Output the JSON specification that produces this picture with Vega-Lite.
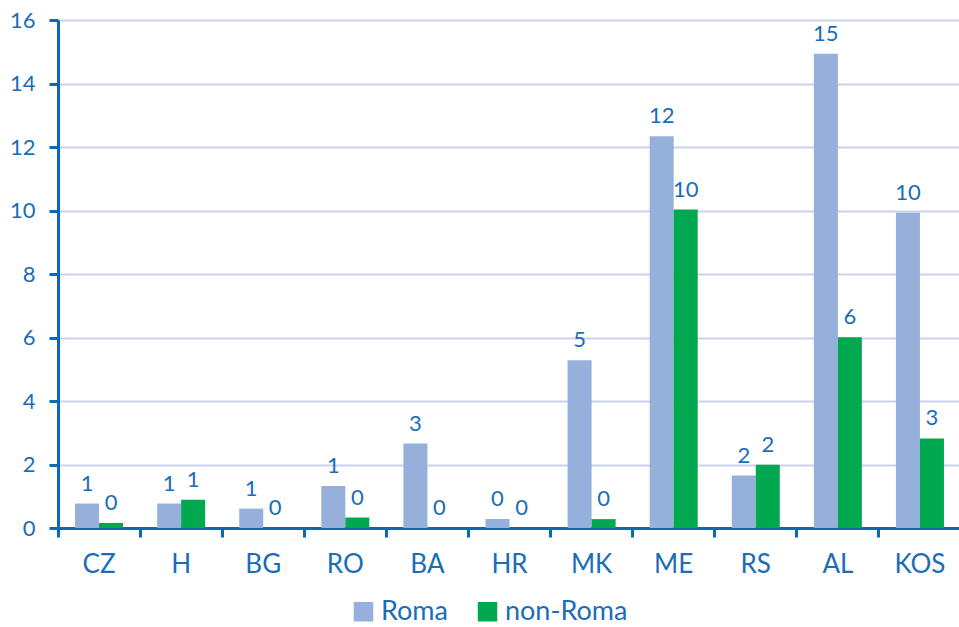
{
  "$schema": "https://vega.github.io/schema/vega-lite/v6.json",
  "autosize": "none",
  "width": 903,
  "height": 508,
  "padding": {"left": 58, "top": 20, "right": 0, "bottom": 99},
  "background": "white",
  "config": {
    "view": {"stroke": null},
    "font": "Lato",
    "axis": {"labelFont": "Lato", "labelColor": "#1a6db6", "domainColor": "#0a6ab4", "tickColor": "#0a6ab4"}
  },
  "data": {
    "values": [
      {"country": "CZ", "group": "Roma", "value": 0.77},
      {"country": "CZ", "group": "non-Roma", "value": 0.16},
      {"country": "H", "group": "Roma", "value": 0.77},
      {"country": "H", "group": "non-Roma", "value": 0.89},
      {"country": "BG", "group": "Roma", "value": 0.61},
      {"country": "BG", "group": "non-Roma", "value": 0.0},
      {"country": "RO", "group": "Roma", "value": 1.32},
      {"country": "RO", "group": "non-Roma", "value": 0.33},
      {"country": "BA", "group": "Roma", "value": 2.66},
      {"country": "BA", "group": "non-Roma", "value": 0.0},
      {"country": "HR", "group": "Roma", "value": 0.28},
      {"country": "HR", "group": "non-Roma", "value": 0.0},
      {"country": "MK", "group": "Roma", "value": 5.28},
      {"country": "MK", "group": "non-Roma", "value": 0.28},
      {"country": "ME", "group": "Roma", "value": 12.34},
      {"country": "ME", "group": "non-Roma", "value": 10.03},
      {"country": "RS", "group": "Roma", "value": 1.65},
      {"country": "RS", "group": "non-Roma", "value": 1.99},
      {"country": "AL", "group": "Roma", "value": 14.94},
      {"country": "AL", "group": "non-Roma", "value": 6.01},
      {"country": "KOS", "group": "Roma", "value": 9.93},
      {"country": "KOS", "group": "non-Roma", "value": 2.82}
    ]
  },
  "encoding": {
    "x": {
      "field": "country",
      "type": "nominal",
      "sort": null,
      "scale": {"paddingInner": 0, "paddingOuter": 0},
      "axis": {
        "title": null,
        "labelAngle": 0,
        "labelFontSize": 26,
        "labelPadding": 14,
        "tickSize": 9,
        "tickWidth": 3,
        "domainWidth": 3,
        "bandPosition": 0,
        "grid": false
      }
    },
    "xOffset": {
      "field": "group",
      "type": "nominal",
      "sort": ["Roma", "non-Roma"],
      "scale": {"paddingInner": 0, "paddingOuter": 0.71}
    },
    "y": {
      "field": "value",
      "type": "quantitative",
      "scale": {"domain": [0, 16], "nice": false},
      "axis": {
        "title": null,
        "values": [0, 2, 4, 6, 8, 10, 12, 14, 16],
        "labelFontSize": 22,
        "labelPadding": 14,
        "tickSize": 9,
        "tickWidth": 3,
        "domainWidth": 3,
        "grid": true,
        "gridColor": "#c9d3ec",
        "gridWidth": 2
      }
    }
  },
  "layer": [
    {
      "mark": {"type": "bar"},
      "encoding": {
        "color": {
          "field": "group",
          "type": "nominal",
          "sort": ["Roma", "non-Roma"],
          "scale": {"domain": ["Roma", "non-Roma"], "range": ["#95b0da", "#00a84f"]},
          "legend": {
            "title": null,
            "orient": "none",
            "legendX": 292,
            "legendY": 578,
            "direction": "horizontal",
            "symbolType": "square",
            "symbolSize": 380,
            "symbolStrokeWidth": 0,
            "labelFontSize": 27,
            "labelColor": "#1a6db6",
            "labelFont": "Lato",
            "columnPadding": 26,
            "labelOffset": 4
          }
        }
      }
    },
    {
      "mark": {"type": "text", "baseline": "bottom", "dy": -8, "fontSize": 22, "color": "#1a6db6", "font": "Lato"},
      "encoding": {
        "text": {"field": "value", "type": "quantitative", "format": ".0f"}
      }
    }
  ]
}
